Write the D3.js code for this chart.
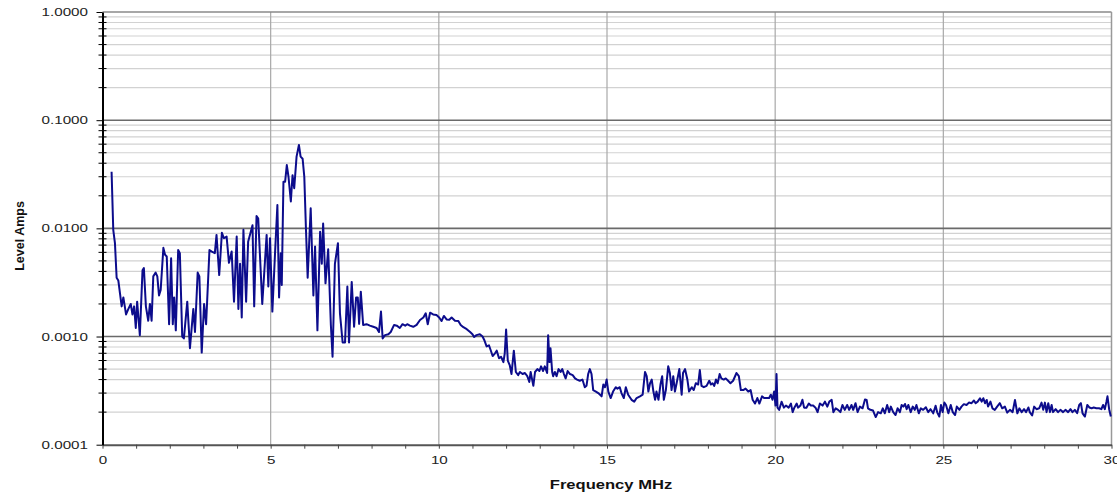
<!DOCTYPE html>
<html>
<head>
<meta charset="utf-8">
<script src="https://cdn.jsdelivr.net/npm/d3@7"></script>
<style>
  body { margin: 0; background: #fff; }
  svg { display: block; font-family: "Liberation Sans", Arial, sans-serif; }
</style>
</head>
<body>
<svg id="chart" width="1117" height="493"></svg>
<script>
// spectrum: [frequency MHz, level A]
const spectrum = [
  [0.27,0.0334],[0.32,0.0097],[0.37,0.0073],[0.42,0.0035],[0.47,0.0033],[0.52,0.0025],[0.57,0.0019],
  [0.62,0.0023],[0.70,0.0016],[0.77,0.0018],[0.84,0.0020],[0.89,0.0016],[0.94,0.0019],[0.99,0.0012],
  [1.03,0.0021],[1.11,0.00103],[1.19,0.0041],[1.23,0.0043],[1.29,0.0019],[1.36,0.0014],[1.41,0.0020],
  [1.46,0.0014],[1.51,0.0036],[1.58,0.0039],[1.63,0.0036],[1.68,0.0024],[1.73,0.0027],[1.81,0.0066],
  [1.86,0.0057],[1.91,0.0055],[1.98,0.0013],[2.04,0.0053],[2.09,0.0013],[2.13,0.0023],[2.18,0.00114],
  [2.25,0.0063],[2.30,0.0059],[2.37,0.0010],[2.42,0.00096],[2.52,0.0021],[2.60,0.00078],[2.70,0.0018],
  [2.75,0.0011],[2.83,0.0039],[2.88,0.0036],[2.95,0.00071],[3.02,0.0020],[3.08,0.0013],[3.18,0.0063],
  [3.25,0.0061],[3.34,0.0059],[3.39,0.0087],[3.47,0.0037],[3.55,0.0091],[3.61,0.0081],[3.69,0.0084],
  [3.76,0.0048],[3.84,0.0061],[3.91,0.0021],[3.99,0.0084],[4.04,0.0018],[4.09,0.0047],[4.14,0.0015],
  [4.19,0.0097],[4.27,0.0021],[4.33,0.0075],[4.46,0.0107],[4.51,0.0019],[4.58,0.0130],[4.63,0.0123],
  [4.75,0.0020],[4.88,0.0087],[4.93,0.0029],[4.98,0.0081],[5.05,0.0017],[5.13,0.0059],[5.20,0.0164],
  [5.25,0.0023],[5.30,0.0059],[5.33,0.0030],[5.38,0.027],[5.43,0.027],[5.48,0.0385],[5.53,0.030],
  [5.60,0.0177],[5.65,0.031],[5.70,0.0235],[5.77,0.046],[5.84,0.059],[5.89,0.046],[5.95,0.044],
  [6.00,0.030],[6.05,0.0097],[6.10,0.0035],[6.19,0.0153],[6.27,0.0024],[6.32,0.0068],[6.39,0.00114],
  [6.47,0.0093],[6.52,0.0047],[6.56,0.0111],[6.63,0.0031],[6.71,0.0064],[6.79,0.00128],[6.84,0.00065],
  [6.91,0.0047],[7.00,0.0073],[7.06,0.00164],[7.14,0.00088],[7.21,0.00088],[7.28,0.0029],[7.33,0.00088],
  [7.41,0.0032],[7.48,0.00123],[7.54,0.0023],[7.59,0.0023],[7.63,0.00131],[7.68,0.0026],[7.75,0.00128],
  [7.85,0.0013],[7.95,0.00126],[8.05,0.00123],[8.15,0.0012],[8.22,0.0011],[8.28,0.0017],[8.33,0.00096],
  [8.40,0.00103],[8.50,0.00105],[8.57,0.0011],[8.67,0.00128],[8.75,0.00126],[8.84,0.0012],[8.92,0.0013],
  [9.00,0.00126],[9.06,0.0013],[9.14,0.00126],[9.24,0.00123],[9.34,0.00128],[9.44,0.00142],[9.54,0.0015],
  [9.61,0.00164],[9.67,0.0013],[9.74,0.00166],[9.83,0.0016],[9.93,0.00158],[10.01,0.0015],[10.08,0.00139],
  [10.15,0.00155],[10.23,0.00144],[10.31,0.00143],[10.38,0.0015],[10.48,0.0014],[10.58,0.00139],
  [10.65,0.00128],[10.73,0.00122],[10.83,0.00117],[10.93,0.0011],[11.00,0.00105],[11.05,0.00099],
  [11.12,0.00103],[11.22,0.00105],[11.30,0.0010],[11.35,0.00093],[11.42,0.00081],[11.49,0.00083],
  [11.54,0.00075],[11.60,0.00066],[11.67,0.00070],[11.72,0.00074],[11.79,0.00063],[11.85,0.00065],
  [11.92,0.00058],[11.96,0.0007],[12.00,0.00116],[12.05,0.0006],[12.11,0.00054],[12.16,0.00045],
  [12.23,0.00074],[12.29,0.00047],[12.36,0.00044],[12.41,0.00047],[12.49,0.00045],[12.56,0.00046],
  [12.63,0.00043],[12.69,0.00038],[12.73,0.00047],[12.81,0.00035],[12.86,0.00047],[12.93,0.0005],
  [12.99,0.00048],[13.04,0.00053],[13.10,0.00048],[13.15,0.00053],[13.22,0.00046],[13.25,0.00103],
  [13.29,0.00058],[13.32,0.00078],[13.37,0.00047],[13.40,0.00043],[13.45,0.00047],[13.50,0.00043],
  [13.56,0.0005],[13.62,0.00047],[13.67,0.0005],[13.72,0.00045],[13.77,0.00041],[13.83,0.00048],
  [13.90,0.00045],[13.98,0.00044],[14.05,0.00041],[14.11,0.0004],[14.19,0.00039],[14.27,0.0004],
  [14.34,0.00034],[14.39,0.00035],[14.44,0.00045],[14.49,0.0005],[14.54,0.00045],[14.59,0.00032],
  [14.67,0.00031],[14.74,0.0003],[14.84,0.00028],[14.89,0.00036],[14.94,0.00034],[14.99,0.0004],
  [15.04,0.00031],[15.11,0.00027],[15.18,0.00031],[15.26,0.00034],[15.31,0.00033],[15.38,0.00034],
  [15.43,0.0003],[15.50,0.00027],[15.56,0.00034],[15.63,0.00029],[15.73,0.00026],[15.81,0.00025],
  [15.88,0.00027],[15.98,0.00028],[16.06,0.00029],[16.13,0.00047],[16.18,0.00043],[16.23,0.00031],
  [16.28,0.00037],[16.33,0.0004],[16.38,0.00031],[16.43,0.00026],[16.47,0.00031],[16.53,0.00026],
  [16.59,0.00036],[16.64,0.00043],[16.69,0.00026],[16.75,0.00032],[16.82,0.00053],[16.87,0.00046],
  [16.92,0.00032],[16.97,0.00043],[17.02,0.00031],[17.07,0.00037],[17.15,0.0005],[17.22,0.00029],
  [17.26,0.00046],[17.32,0.0005],[17.39,0.0004],[17.44,0.00031],[17.52,0.00034],[17.58,0.00032],
  [17.64,0.00037],[17.71,0.00036],[17.76,0.00049],[17.81,0.00035],[17.88,0.00034],[17.96,0.00035],
  [18.04,0.00039],[18.09,0.00036],[18.14,0.00037],[18.19,0.00035],[18.24,0.0004],[18.29,0.00037],
  [18.35,0.00045],[18.40,0.00041],[18.47,0.0004],[18.53,0.00041],[18.60,0.00039],[18.67,0.00037],
  [18.75,0.00039],[18.85,0.00046],[18.92,0.00043],[18.98,0.00032],[19.05,0.00032],[19.12,0.00033],
  [19.20,0.00031],[19.27,0.00032],[19.33,0.00026],[19.40,0.00024],[19.47,0.00027],[19.53,0.00024],
  [19.61,0.00028],[19.67,0.00027],[19.75,0.00027],[19.82,0.00027],[19.87,0.00029],[19.92,0.00026],
  [19.97,0.00031],[20.01,0.00023],[20.04,0.00045],[20.07,0.00022],[20.12,0.00021],[20.19,0.00025],
  [20.26,0.00022],[20.32,0.00023],[20.40,0.00022],[20.47,0.00024],[20.52,0.0002],[20.57,0.00022],
  [20.64,0.00024],[20.68,0.00022],[20.75,0.00023],[20.81,0.00026],[20.86,0.00022],[20.93,0.00022],
  [21.00,0.00024],[21.06,0.00023],[21.13,0.00023],[21.20,0.00022],[21.26,0.0002],[21.33,0.00024],
  [21.41,0.00023],[21.48,0.00025],[21.55,0.000225],[21.61,0.00025],[21.68,0.00026],[21.73,0.0002],
  [21.80,0.000217],[21.87,0.00021],[21.94,0.0002],[22.00,0.000233],[22.07,0.00021],[22.14,0.000233],
  [22.20,0.00021],[22.27,0.000233],[22.32,0.00021],[22.39,0.000242],[22.45,0.0002],[22.52,0.000225],
  [22.60,0.000217],[22.67,0.000262],[22.72,0.000259],[22.76,0.000217],[22.83,0.00021],[22.91,0.000207],
  [22.99,0.00018],[23.06,0.0002],[23.14,0.000195],[23.20,0.000217],[23.26,0.000195],[23.33,0.000233],
  [23.39,0.0002],[23.44,0.000225],[23.51,0.0002],[23.58,0.000188],[23.64,0.000217],[23.71,0.0002],
  [23.76,0.000233],[23.81,0.000225],[23.86,0.000238],[23.91,0.000213],[23.96,0.000233],[24.03,0.0002],
  [24.09,0.000225],[24.15,0.00021],[24.20,0.000233],[24.27,0.000195],[24.33,0.000217],[24.40,0.00021],
  [24.48,0.000222],[24.55,0.0002],[24.62,0.000213],[24.70,0.000195],[24.77,0.000229],[24.82,0.000198],
  [24.88,0.000182],[24.93,0.000233],[24.98,0.0002],[25.03,0.000245],[25.08,0.000233],[25.15,0.000195],
  [25.22,0.000233],[25.28,0.0002],[25.35,0.000188],[25.40,0.000225],[25.48,0.00021],[25.54,0.000225],
  [25.61,0.000237],[25.69,0.000233],[25.76,0.000245],[25.84,0.000242],[25.91,0.000256],[25.96,0.000242],
  [26.02,0.00025],[26.09,0.000269],[26.14,0.00025],[26.19,0.000269],[26.24,0.000242],[26.29,0.000259],
  [26.33,0.000225],[26.40,0.00025],[26.46,0.000217],[26.53,0.00021],[26.60,0.000225],[26.68,0.000242],
  [26.75,0.000217],[26.83,0.000225],[26.90,0.000198],[26.98,0.00021],[27.06,0.0002],[27.13,0.000259],
  [27.20,0.000195],[27.26,0.000217],[27.33,0.0002],[27.40,0.000213],[27.46,0.0002],[27.53,0.000221],
  [27.57,0.0002],[27.64,0.000186],[27.70,0.000225],[27.77,0.000213],[27.85,0.000217],[27.92,0.000245],
  [27.97,0.00021],[28.02,0.000245],[28.07,0.0002],[28.12,0.000242],[28.17,0.0002],[28.22,0.000233],
  [28.26,0.0002],[28.34,0.000213],[28.41,0.0002],[28.48,0.00021],[28.56,0.0002],[28.63,0.00021],
  [28.71,0.0002],[28.78,0.000213],[28.84,0.0002],[28.91,0.00021],[28.98,0.000196],[29.04,0.000233],
  [29.09,0.000242],[29.14,0.000195],[29.21,0.000182],[29.28,0.000233],[29.34,0.000221],[29.41,0.000217],
  [29.47,0.000221],[29.55,0.000217],[29.63,0.000217],[29.70,0.000213],[29.75,0.000233],[29.80,0.000213],
  [29.85,0.00025],[29.88,0.00028],[29.93,0.000213],[29.98,0.000182]
];

const xMajorTicks = [0, 5, 10, 15, 20, 25, 30];
const xMinorTicks = d3.range(0, 31, 1);
const yDecades = [0.0001, 0.001, 0.01, 0.1, 1];
const yMinorTicks = [];
yDecades.slice(0, -1).forEach(d => { for (let k = 2; k <= 9; k++) yMinorTicks.push(d * k); });

const xTitle = "Frequency MHz";
const yTitle = "Level Amps";

var svg = d3.select("#chart"),
    plotLeft = 102.5, plotRight = 1111.5, plotTop = 12, plotBottom = 444.7,
    stretch = 1.38;   // the source picture has horizontally widened lettering

var x = d3.scaleLinear().domain([0, 30]).range([plotLeft, plotRight]);
var y = d3.scaleLog().domain([0.0001, 1]).range([plotBottom, plotTop]);

// --- grid ---
var grid = svg.append("g");

grid.selectAll(".minor-h")
    .data(yMinorTicks)
  .enter().append("line")
    .attr("x1", plotLeft).attr("x2", plotRight)
    .attr("y1", d => y(d)).attr("y2", d => y(d))
    .attr("stroke", "#d2d2d2").attr("stroke-width", 1.2);

grid.selectAll(".vert")
    .data(xMajorTicks.slice(1, -1))
  .enter().append("line")
    .attr("x1", d => x(d)).attr("x2", d => x(d))
    .attr("y1", plotTop).attr("y2", plotBottom)
    .attr("stroke", "#a8a8a8").attr("stroke-width", 1.2);

grid.selectAll(".major-h")
    .data(yDecades.slice(1))
  .enter().append("line")
    .attr("x1", plotLeft).attr("x2", plotRight)
    .attr("y1", d => y(d)).attr("y2", d => y(d))
    .attr("stroke", d => d === 1 ? "#8a8a8a" : "#6a6a6a")
    .attr("stroke-width", 1.6);

// right frame
grid.append("line")
    .attr("x1", x(30)).attr("x2", x(30))
    .attr("y1", plotTop).attr("y2", plotBottom)
    .attr("stroke", "#999").attr("stroke-width", 1.5);

// --- spectrum trace ---
var line = d3.line()
    .x(d => x(d[0]))
    .y(d => y(d[1]));

svg.append("path")
    .datum(spectrum)
    .attr("fill", "none")
    .attr("stroke", "#0c0c8c")
    .attr("stroke-width", 2)
    .attr("stroke-linejoin", "round")
    .attr("d", line);

// --- x axis ---
var xAxis = svg.append("g")
    .attr("transform", "translate(0," + plotBottom + ")")
    .call(d3.axisBottom(x)
      .tickValues(xMinorTicks)
      .tickSize(4)
      .tickSizeOuter(0)
      .tickPadding(8)
      .tickFormat(d => d % 5 === 0 ? d : ""));
xAxis.select(".domain").attr("stroke", "#555").attr("stroke-width", 2);
xAxis.selectAll(".tick line").attr("stroke", "#444");
xAxis.selectAll("text").attr("font-size", 11).attr("fill", "#222");

// --- y axis ---
var yAxis = svg.append("g")
    .attr("transform", "translate(" + plotLeft + ",0)")
    .call(d3.axisLeft(y)
      .tickValues(yDecades)
      .tickSize(6)
      .tickSizeOuter(0)
      .tickPadding(8.5)
      .tickFormat(d3.format(".4f")));
yAxis.select(".domain").attr("stroke", "#000").attr("stroke-width", 2);
yAxis.selectAll(".tick line").attr("stroke", "#000");
yAxis.selectAll("text").attr("font-size", 11).attr("fill", "#222");

svg.append("g").selectAll("line")
    .data(yMinorTicks)
  .enter().append("line")
    .attr("x1", plotLeft - 4).attr("x2", plotLeft + 4)
    .attr("y1", d => y(d)).attr("y2", d => y(d))
    .attr("stroke", "#000").attr("stroke-width", 1);

// --- titles ---
svg.append("text")
    .attr("class", "wide")
    .attr("x", 611).attr("y", 489)
    .attr("text-anchor", "middle")
    .attr("font-size", 12).attr("font-weight", "bold").attr("fill", "#111")
    .text(xTitle);

svg.append("text")
    .attr("transform", "translate(24,236) rotate(-90)")
    .attr("text-anchor", "middle")
    .attr("font-size", 12.5).attr("font-weight", "bold").attr("fill", "#111")
    .text(yTitle);

// widen the horizontal lettering like the source image
svg.selectAll(".tick text, text.wide").each(function() {
  var w = this.getComputedTextLength();
  if (w > 0) {
    d3.select(this)
      .attr("textLength", w * stretch)
      .attr("lengthAdjust", "spacingAndGlyphs");
  }
});
</script>
</body>
</html>
